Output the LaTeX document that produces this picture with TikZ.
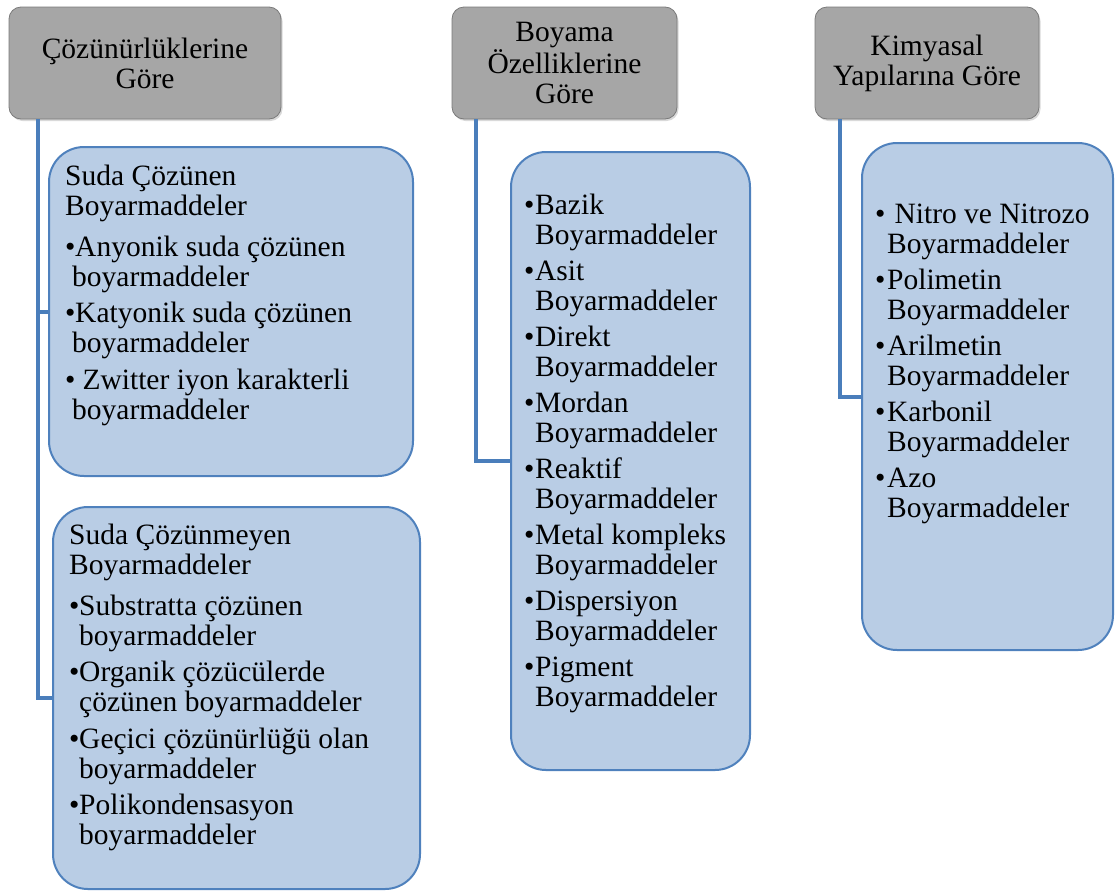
\documentclass[tikz,border=0pt]{standalone}
\usepackage{fontspec}
\setmainfont{Liberation Serif}
\usetikzlibrary{shadows}
\definecolor{hdrfill}{HTML}{A6A6A6}
\definecolor{hdrline}{HTML}{7A7A7A}
\definecolor{boxfill}{HTML}{B9CDE5}
\definecolor{boxline}{HTML}{4F81BD}
\definecolor{linkcol}{HTML}{4A7EBB}
% bullet set in a box of given width, so the item text starts at a fixed indent
\newcommand\bul[1]{\makebox[#1][l]{•}}
% fixed height for the first line of a list, so the top anchor is predictable
\newcommand\firstline{\rule{0pt}{21pt}}
\begin{document}
\begin{tikzpicture}[x=1pt,y=-1pt,
  txt/.style={font=\fontsize{29.5}{30}\selectfont},
  header/.style={txt, draw=hdrline, fill=hdrfill, rounded corners=12pt,
    line width=0.8pt, align=center, inner sep=0pt,
    drop shadow={opacity=0.3, shadow xshift=1.5pt, shadow yshift=-2pt}},
  group/.style={draw=boxline, fill=boxfill, line width=2pt,
    rounded corners=35pt, inner sep=0pt},
  list/.style={txt, align=left, anchor=north west, inner sep=0pt},
  link/.style={draw=linkcol, line width=4pt}]
\useasboundingbox (0,0) rectangle (1116,892);

% category headers
\node[header, minimum width=272pt, minimum height=112pt] (h1) at (145,63)
  {Çözünürlüklerine\\Göre};
\node[header, minimum width=225pt, minimum height=112pt] (h2) at (564.5,63)
  {Boyama\\Özelliklerine\\Göre};
\node[header, minimum width=224pt, minimum height=112pt] (h3) at (927,63)
  {Kimyasal\\Yapılarına Göre};

% group boxes
\node[group, minimum width=364pt, minimum height=329pt] (b1) at (231,311.5) {};
\node[group, minimum width=367pt, minimum height=382pt] (b2) at (236.5,698) {};
\node[group, minimum width=239pt, minimum height=618pt] (b3) at (630.5,461) {};
\node[group, minimum width=251pt, minimum height=507pt] (b4) at (987.5,396.5) {};

% connectors from headers to their groups
\draw[link] ([xshift=29pt]h1.south west) |- (b1.west);
\draw[link] ([xshift=29pt]h1.south west) |- (b2.west);
\draw[link] ([xshift=24pt]h2.south west) |- (b3.west);
\draw[link] ([xshift=25pt]h3.south west) |- (b4.west);

% box contents
\node[list] (t1) at (65,164) {\firstline Suda Çözünen\\Boyarmaddeler\\[11pt]
  \bul{10pt}Anyonik suda çözünen\\\hspace*{7pt}boyarmaddeler\\[6.5pt]
  \bul{10pt}Katyonik suda çözünen\\\hspace*{7pt}boyarmaddeler\\[6.5pt]
  \bul{10pt} Zwitter iyon karakterli\\\hspace*{7pt}boyarmaddeler};

\node[list] (t2) at (69,523) {\firstline Suda Çözünmeyen\\Boyarmaddeler\\[11pt]
  \bul{10pt}Substratta çözünen\\\hspace*{10pt}boyarmaddeler\\[6.5pt]
  \bul{10pt}Organik çözücülerde\\\hspace*{10pt}çözünen boyarmaddeler\\[6.5pt]
  \bul{10pt}Geçici çözünürlüğü olan\\\hspace*{10pt}boyarmaddeler\\[6.5pt]
  \bul{10pt}Polikondensasyon\\\hspace*{10pt}boyarmaddeler};

\node[list] (t3) at (524,193) {%
  \firstline\bul{11pt}Bazik\\\hspace*{11pt}Boyarmaddeler\\[6pt]
  \bul{11pt}Asit\\\hspace*{11pt}Boyarmaddeler\\[6pt]
  \bul{11pt}Direkt\\\hspace*{11pt}Boyarmaddeler\\[6pt]
  \bul{11pt}Mordan\\\hspace*{11pt}Boyarmaddeler\\[6pt]
  \bul{11pt}Reaktif\\\hspace*{11pt}Boyarmaddeler\\[6pt]
  \bul{11pt}Metal kompleks\\\hspace*{11pt}Boyarmaddeler\\[6pt]
  \bul{11pt}Dispersiyon\\\hspace*{11pt}Boyarmaddeler\\[6pt]
  \bul{11pt}Pigment\\\hspace*{11pt}Boyarmaddeler};

\node[list] (t4) at (875,202) {%
  \firstline\bul{12pt} Nitro ve Nitrozo\\\hspace*{12pt}Boyarmaddeler\\[6pt]
  \bul{12pt}Polimetin\\\hspace*{12pt}Boyarmaddeler\\[6pt]
  \bul{12pt}Arilmetin\\\hspace*{12pt}Boyarmaddeler\\[6pt]
  \bul{12pt}Karbonil\\\hspace*{12pt}Boyarmaddeler\\[6pt]
  \bul{12pt}Azo\\\hspace*{12pt}Boyarmaddeler};
\end{tikzpicture}
\end{document}
